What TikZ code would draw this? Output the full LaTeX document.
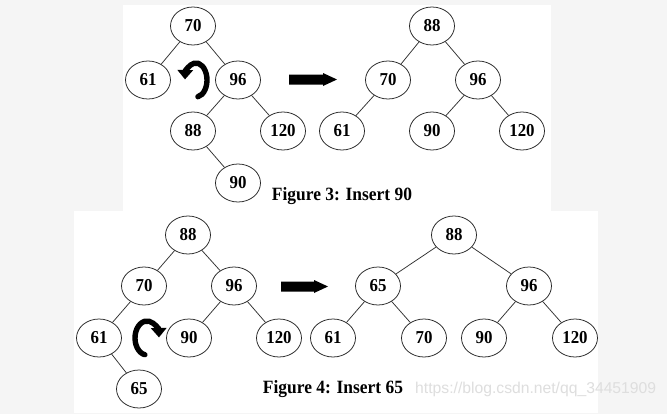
\documentclass[tikz,border=0pt]{standalone}
\usepackage{fontspec}
\setmainfont{Liberation Serif}[FakeStretch=0.93]
\newfontfamily\markfont{Liberation Sans}
\usetikzlibrary{shapes.geometric,arrows.meta}
\definecolor{pagegray}{HTML}{F5F5F5}
\definecolor{markgray}{HTML}{DEDEDE}
\tikzset{
  key/.style={ellipse,draw=black!85,line width=0.65pt,minimum width=1.35cm,
    minimum height=1.14cm,inner sep=0pt,font=\fontsize{15.5}{15.5}\selectfont\bfseries},
  edge/.style={draw=black!80,line width=0.65pt},
  turn/.style={line width=4.6pt,-{Triangle[length=8pt,width=13pt]}},
  caption/.style={font=\fontsize{16}{16}\selectfont\bfseries}
}
\begin{document}
\begin{tikzpicture}[x=0.03cm,y=-0.03cm,line cap=round]
  \fill[pagegray] (0,0) rectangle (667,414);
  \useasboundingbox (0,0) rectangle (667,414);
  \fill[white] (123,5) rectangle (551,211);
  \fill[white] (74,211) rectangle (598,413);

  % figure 3
  \node[key] (a70) at (193,26) {70};
  \node[key] (a61) at (148,80) {61};
  \node[key] (a96) at (238,80) {96};
  \node[key] (a88) at (193,131) {88};
  \node[key] (a120) at (283,131) {120};
  \node[key] (a90) at (238,183) {90};
  \draw[edge] (a70) -- (a61) (a70) -- (a96) (a96) -- (a88) (a96) -- (a120) (a88) -- (a90);
  \draw[turn] (196,80) ++(80:11 and 17) arc[start angle=80,end angle=-178,x radius=11,y radius=17];
  \fill (289,74.5) -- (323,74.5) -- (323,73) -- (337,79.5) -- (323,86) -- (323,84.5) -- (289,84.5) -- cycle;
  \node[key] (b88) at (432,26) {88};
  \node[key] (b70) at (388,80) {70};
  \node[key] (b96) at (478,80) {96};
  \node[key] (b61) at (342,131) {61};
  \node[key] (b90) at (432,131) {90};
  \node[key] (b120) at (522,131) {120};
  \draw[edge] (b88) -- (b70) (b88) -- (b96) (b70) -- (b61) (b96) -- (b90) (b96) -- (b120);
  \node[caption] (cap3) at (342,196) {Figure 3: Insert 90};

  % figure 4
  \node[key] (c88) at (188,235) {88};
  \node[key] (c70) at (144,286) {70};
  \node[key] (c96) at (234,286) {96};
  \node[key] (c61) at (99,338) {61};
  \node[key] (c90) at (189,338) {90};
  \node[key] (c120) at (279,338) {120};
  \node[key] (c65) at (139,389) {65};
  \draw[edge] (c88) -- (c70) (c88) -- (c96) (c70) -- (c61) (c96) -- (c90) (c96) -- (c120) (c61) -- (c65);
  \draw[turn] (147,338) ++(100:12 and 17) arc[start angle=100,end angle=358,x radius=12,y radius=17];
  \fill (281,281.5) -- (314,281.5) -- (314,280) -- (328,286.5) -- (314,293) -- (314,291.5) -- (281,291.5) -- cycle;
  \node[key] (d88) at (454,235) {88};
  \node[key] (d65) at (378,286) {65};
  \node[key] (d96) at (529,286) {96};
  \node[key] (d61) at (333,338) {61};
  \node[key] (d70) at (424,338) {70};
  \node[key] (d90) at (484,338) {90};
  \node[key] (d120) at (575,338) {120};
  \draw[edge] (d88) -- (d65) (d88) -- (d96) (d65) -- (d61) (d65) -- (d70) (d96) -- (d90) (d96) -- (d120);
  \node[caption] (cap4) at (333,389) {Figure 4: Insert 65};
  \node[anchor=west,inner sep=0pt,text=markgray,font=\markfont\fontsize{13.4}{14}\selectfont] (mark) at (415,389) {https://blog.csdn.net/qq\_34451909};
\end{tikzpicture}
\end{document}
